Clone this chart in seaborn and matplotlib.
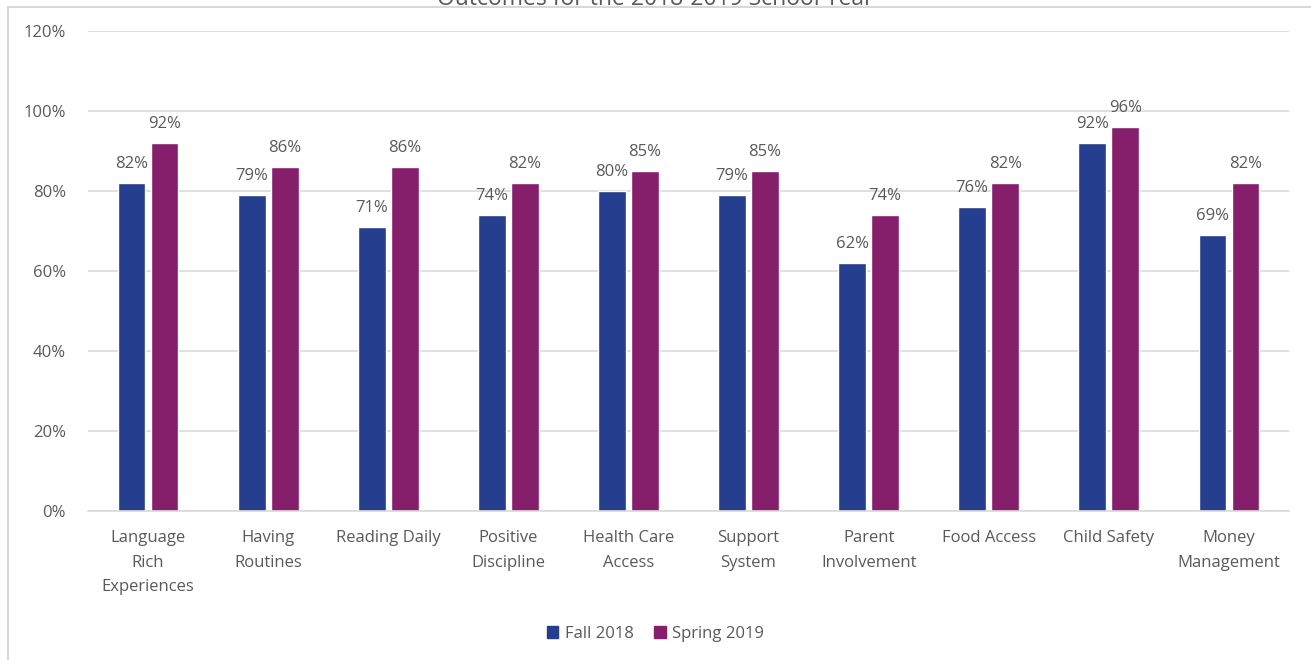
import matplotlib
matplotlib.use("Agg")
import matplotlib.pyplot as plt
from matplotlib.lines import Line2D
from matplotlib.patches import Patch
import seaborn as sns
import pandas as pd

categories = ["Language\nRich\nExperiences", "Having\nRoutines", "Reading Daily",
              "Positive\nDiscipline", "Health Care\nAccess", "Support\nSystem",
              "Parent\nInvolvement", "Food Access", "Child Safety", "Money\nManagement"]
fall_2018 = [82, 79, 71, 74, 80, 79, 62, 76, 92, 69]
spring_2019 = [92, 86, 86, 82, 85, 85, 74, 82, 96, 82]
series = ["Fall 2018", "Spring 2019"]
y_ticks = [0, 20, 40, 60, 80, 100, 120]
title = "Outcomes for the 2018-2019 School Year"

colors = ["#253E8D", "#861F6B"]
txt = "#595959"
grid = "#D9D9D9"

df = pd.DataFrame({
    "category": categories * 2,
    "value": fall_2018 + spring_2019,
    "series": [series[0]] * len(categories) + [series[1]] * len(categories),
})

sns.set_theme(style="white")
plt.rcParams["font.family"] = ["Open Sans", "DejaVu Sans"]

fig = plt.figure(figsize=(13.11, 6.6), dpi=100)
ax = fig.add_axes([88 / 1311, 1 - 511 / 660, (1289 - 88) / 1311, (511 - 31) / 660])

sns.barplot(data=df, x="category", y="value", hue="series", palette=colors,
            width=0.55, gap=0.16, ax=ax, legend=False, saturation=1)

for cont in ax.containers:
    ax.bar_label(cont, labels=[f"{int(v.get_height())}%" for v in cont],
                 padding=8, color=txt, fontsize=12)

ax.set_ylim(0, 120)
ax.set_xlim(-0.5, len(categories) - 0.5)
ax.set_yticks(y_ticks)
ax.set_yticklabels([f"{t}%" for t in y_ticks])
ax.yaxis.grid(True, color=grid, linewidth=1.2)
ax.set_axisbelow(True)
for s in ["top", "right", "left"]:
    ax.spines[s].set_visible(False)
ax.spines["bottom"].set_color(grid)
ax.spines["bottom"].set_linewidth(1.2)
ax.tick_params(axis="y", length=0, pad=16, labelsize=12, labelcolor=txt)
ax.tick_params(axis="x", length=0, pad=14, labelsize=12, labelcolor=txt)
for lab in ax.get_xticklabels():
    lab.set_linespacing(1.7)
ax.set_xlabel("")
ax.set_ylabel("")

# chart frame
fig.add_artist(Line2D([8 / 1311, 8 / 1311], [1 - 7 / 660, 0], transform=fig.transFigure,
                      color=grid, linewidth=1.5))
fig.add_artist(Line2D([8 / 1311, 1], [1 - 7 / 660, 1 - 7 / 660], transform=fig.transFigure,
                      color=grid, linewidth=1.5))

fig.text(0.5, 1 - 5 / 660, title, ha="center", va="baseline", fontsize=16.5, color=txt)

handles = [Patch(facecolor=c, edgecolor=c) for c in colors]
fig.legend(handles, series, loc="center", bbox_to_anchor=(0.5, 1 - 634 / 660),
           ncol=2, frameon=False, fontsize=12, labelcolor=txt,
           handlelength=0.7, handleheight=0.7, handletextpad=0.4, columnspacing=1.2)

fig.savefig("out.png", dpi=100)
